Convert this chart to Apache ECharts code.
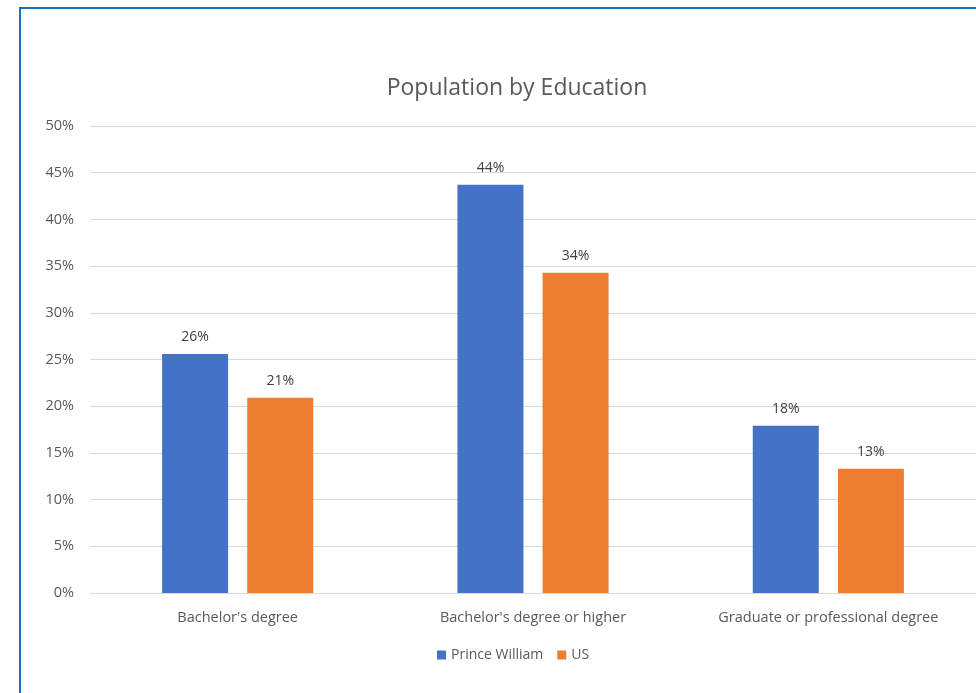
<!DOCTYPE html>
<html><head><meta charset="utf-8">
<script src="https://cdn.jsdelivr.net/npm/echarts@6/dist/echarts.min.js"></script>
<style>html,body{margin:0;padding:0;background:#fff}#c{width:976px;height:693px}</style>
</head><body><div id="c"></div>
<script>
const categories = ["Bachelor's degree", "Bachelor's degree or higher", "Graduate or professional degree"];
const princeWilliam = [25.6, 43.7, 17.9];
const us = [20.9, 34.3, 13.3];
const yTicks = [0, 5, 10, 15, 20, 25, 30, 35, 40, 45, 50];

const chart = echarts.init(document.getElementById('c'), null, {renderer: 'canvas'});
const font = "'Open Sans', 'Noto Sans', sans-serif";
const lbl = {show: true, position: 'top', distance: 10, color: '#404040', fontSize: 14, fontFamily: font,
  formatter: p => Math.round(p.value) + '%'};
chart.setOption({
  animation: false,
  textStyle: {fontFamily: font},
  title: {text: 'Population by Education', left: 512, top: 72, textAlign: 'center',
    textStyle: {fontSize: 23, fontWeight: 'normal', color: '#595959', fontFamily: font}},
  graphic: [{type: 'rect', shape: {x: 20, y: 8, width: 1000, height: 720},
    style: {fill: null, stroke: '#1f6fbf', lineWidth: 2}, silent: true}],
  legend: {bottom: 26, left: 432, itemWidth: 9, itemHeight: 9, itemGap: 14, icon: 'rect',
    textStyle: {fontSize: 14, color: '#595959', fontFamily: font},
    data: ['Prince William', 'US']},
  grid: {left: 90, right: 0, top: 126, bottom: 100},
  xAxis: {type: 'category', data: categories,
    axisLine: {lineStyle: {color: '#d9d9d9', width: 1}}, axisTick: {show: false},
    axisLabel: {fontSize: 14.5, color: '#595959', margin: 17, fontFamily: font}},
  yAxis: {type: 'value', min: yTicks[0], max: yTicks[yTicks.length - 1], interval: 5,
    axisLine: {show: false}, axisTick: {show: false},
    splitLine: {lineStyle: {color: '#d9d9d9'}},
    axisLabel: {fontSize: 14.5, color: '#595959', margin: 16, formatter: v => v + '%', fontFamily: font}},
  series: [
    {name: 'Prince William', type: 'bar', data: princeWilliam, barWidth: 66, barGap: '29%',
      itemStyle: {color: '#4472c4'}, label: lbl},
    {name: 'US', type: 'bar', data: us, barWidth: 66, barGap: '29%',
      itemStyle: {color: '#ed7d31'}, label: lbl}
  ]
});
</script></body></html>
